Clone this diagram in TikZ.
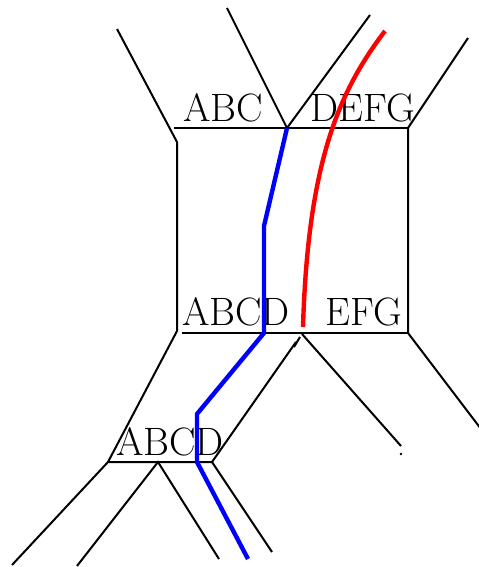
\documentclass[tikz,border=0pt]{standalone}
\usepackage{tikz}
\usetikzlibrary{positioning, calc}
\tikzstyle{Leg} = [line width=1pt, black]
\tikzstyle{BluePath} = [line width=2.2pt, blue, line join=round]
\tikzstyle{RedPath} = [line width=2.2pt, red]
\tikzstyle{Lbl} = [anchor=base, inner sep=0pt, font=\fontsize{19.8}{24}\selectfont]

\begin{document}
\begin{tikzpicture}[x=0.5pt, y=-0.5pt]
    \useasboundingbox (0,0) rectangle (478,567);
    \coordinate (tl) at (174,128);
    \coordinate (tlv) at (177,142);
    \coordinate (tm) at (287,128);
    \coordinate (tr) at (408,128);
    \coordinate (bl) at (177,331);
    \coordinate (bls) at (182,333);
    \coordinate (bm) at (302,334);
    \coordinate (br) at (408,333);
    \coordinate (ll) at (108,462);
    \coordinate (lm) at (158,462);
    \coordinate (lr) at (212,462);
    \coordinate (e1) at (117,29);
    \coordinate (e2) at (227,8);
    \coordinate (e3) at (370,15);
    \coordinate (e4) at (468,38);
    \coordinate (e5) at (401,446);
    \coordinate (e6) at (481,429);
    \coordinate (e7) at (12,565);
    \coordinate (e8) at (77,566);
    \coordinate (e9) at (219,559);
    \coordinate (e10) at (272,552);
    \coordinate (e11) at (296,342);
    \node[Lbl] (abc) at (223,121) {ABC};
    \node[Lbl] (defg) at (363,121) {DEFG};
    \node[Lbl] (abcd) at (236,325) {ABCD};
    \node[Lbl] (efg) at (364,325) {EFG};
    \node[Lbl] (abcd2) at (170,455) {ABCD};
    \draw[Leg] (tl) -- (tr);
    \draw[Leg] (e1) -- (tlv) -- (bl) -- (ll);
    \draw[Leg] (e2) -- (tm) -- (e3);
    \draw[Leg] (e4) -- (tr) -- (br) -- (e6);
    \draw[Leg] (bls) -- (br);
    \draw[Leg] (bm) -- (e5);
    \fill (401,454) circle (1.3);
    \draw[Leg] (lr) -- (e11);
    \draw[Leg] (294,347) -- (300,337);
    \draw[Leg] (e7) -- (ll) -- (lr) -- (e10);
    \draw[Leg] (e8) -- (lm) -- (e9);
    \draw[BluePath] (tm) -- (264,226) -- (264,333) -- (197,414) -- (197,462) -- (248,559);
    \draw[RedPath] (385,31) .. controls (340,90) and (308,160) .. (303,327);
\end{tikzpicture}
\end{document}
